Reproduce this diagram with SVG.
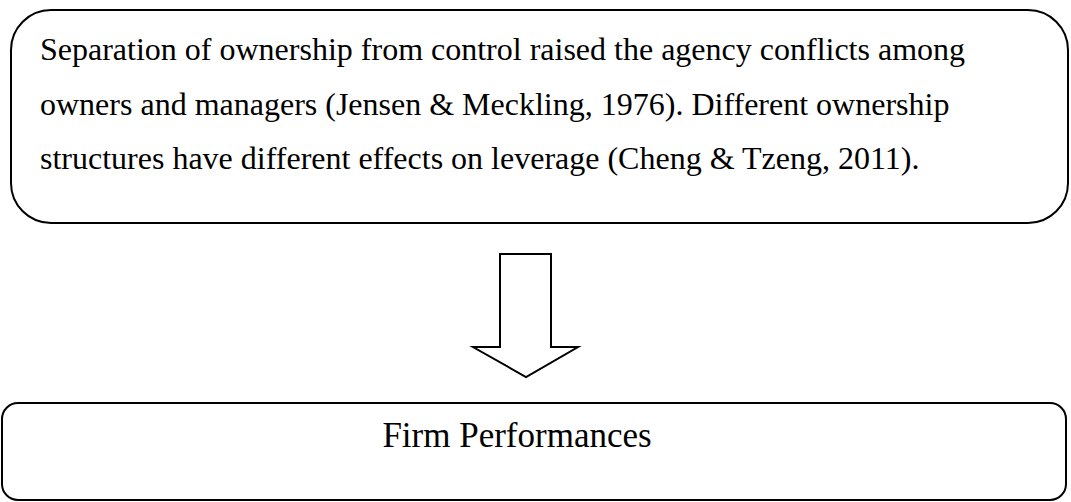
<svg xmlns="http://www.w3.org/2000/svg" width="1071" height="502" viewBox="0 0 1071 502">
<style>
.box{fill:#fff;stroke:#000;stroke-width:2}
.t{font-family:"Liberation Serif","Times New Roman",serif;font-size:32px;fill:#000}
</style>
<rect width="1071" height="502" fill="#fff"/>
<g id="top">
<rect class="box" x="11" y="10" width="1057" height="213" rx="40" ry="40"/>
<text class="t" x="40" y="60">Separation of ownership from control raised the agency conflicts among</text>
<text class="t" x="40" y="115">owners and managers (Jensen &amp; Meckling, 1976). Different ownership</text>
<text class="t" x="40" y="169">structures have different effects on leverage (Cheng &amp; Tzeng, 2011).</text>
</g>
<g id="connectors">
<path class="box" d="M500,254 H551 V347 H578 L526,377 L473,347 H500 Z"/>
</g>
<g id="bottom">
<rect class="box" x="2" y="403" width="1064" height="97" rx="16" ry="16"/>
<text class="t" x="517" y="447" text-anchor="middle" style="font-size:35px">Firm Performances</text>
</g>
</svg>
